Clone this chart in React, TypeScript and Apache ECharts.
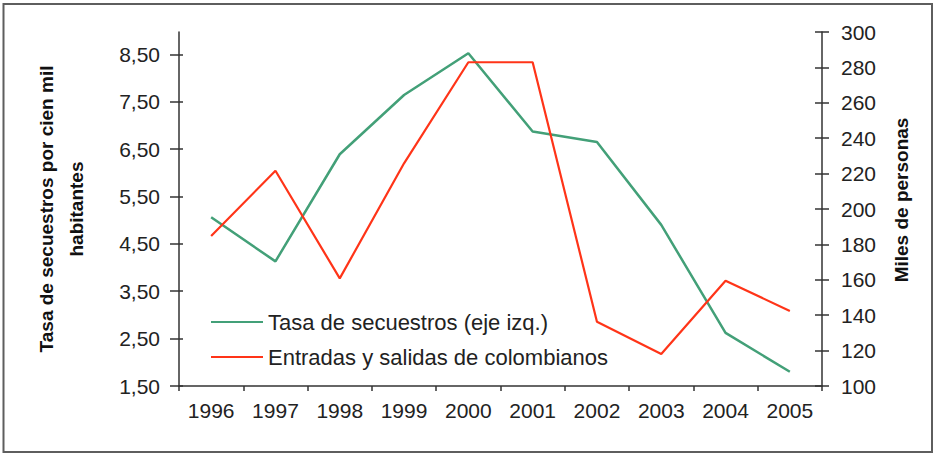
import React, { useEffect, useRef } from "react";
import * as echarts from "echarts";

const years = ["1996", "1997", "1998", "1999", "2000", "2001", "2002", "2003", "2004", "2005"];
const tasaSecuestros = [5.06, 4.13, 6.39, 7.64, 8.52, 6.87, 6.65, 4.9, 2.62, 1.8];
const entradasSalidas = [184.7, 221.6, 160.8, 225.8, 282.9, 282.9, 136.3, 118.1, 159.5, 142.4];
const leftTicks = [1.5, 2.5, 3.5, 4.5, 5.5, 6.5, 7.5, 8.5];
const seriesNames = ["Tasa de secuestros (eje izq.)", "Entradas y salidas de colombianos"];
const leftName = "Tasa de secuestros por cien mil\nhabitantes";
const rightName = "Miles de personas";

const FONT = "'Liberation Sans', Arial, Helvetica, sans-serif";
const GREEN = "#43a078";
const RED = "#ff3418";
const AXIS = "#333333";

export default function App() {
  const ref = useRef<HTMLDivElement>(null);
  useEffect(() => {
    if (!ref.current) return;
    const chart = echarts.init(ref.current, undefined, { renderer: "svg" });
    const leftMin = 1.5;
    const leftMax = 8.97;
    const fmt = (v: number) => v.toFixed(2).replace(".", ",");
    chart.setOption({
      animation: false,
      backgroundColor: "#ffffff",
      textStyle: { fontFamily: FONT },
      grid: { left: 179, right: 112, top: 32, bottom: 67, containLabel: false },
      legend: {
        orient: "vertical",
        left: 206,
        top: 306,
        padding: 5,
        itemWidth: 52,
        itemHeight: 2,
        itemGap: 13,
        icon: "rect",
        data: seriesNames,
        textStyle: { fontFamily: FONT, fontSize: 22, color: "#222", lineHeight: 22 },
      },
      xAxis: {
        type: "category",
        data: years,
        boundaryGap: true,
        axisLine: { lineStyle: { color: AXIS, width: 1.5 } },
        axisTick: { show: true, length: 5, lineStyle: { color: AXIS, width: 1.5 } },
        axisLabel: { fontFamily: FONT, fontSize: 21, color: "#222", margin: 14 },
        splitLine: { show: false },
      },
      yAxis: [
        {
          type: "value",
          position: "left",
          min: leftMin,
          max: leftMax,
          name: leftName,
          nameLocation: "middle",
          nameRotate: 90,
          nameGap: 88,
          nameTextStyle: { fontFamily: FONT, fontSize: 19, fontWeight: "bold", color: "#111", lineHeight: 30 },
          axisLine: { show: true, lineStyle: { color: AXIS, width: 1.5 } },
          axisTick: { show: true, length: 9, customValues: leftTicks, lineStyle: { color: AXIS, width: 1.5 } },
          axisLabel: { customValues: leftTicks, formatter: fmt, fontFamily: FONT, fontSize: 21, color: "#222", margin: 19 },
          splitLine: { show: false },
        },
        {
          type: "value",
          position: "right",
          min: 100,
          max: 300,
          interval: 20,
          name: rightName,
          nameLocation: "middle",
          nameRotate: 90,
          nameGap: 70,
          nameTextStyle: { fontFamily: FONT, fontSize: 19, fontWeight: "bold", color: "#111", padding: [0, 0, 0, 18] },
          axisLine: { show: true, lineStyle: { color: AXIS, width: 1.5 } },
          axisTick: { show: true, length: 7, lineStyle: { color: AXIS, width: 1.5 } },
          axisLabel: { fontFamily: FONT, fontSize: 21, color: "#222", margin: 19 },
          splitLine: { show: false },
        },
        {
          type: "value",
          position: "left",
          min: leftMin,
          max: leftMax,
          axisLine: { show: false },
          axisTick: { show: true, inside: true, length: 4, customValues: leftTicks, lineStyle: { color: AXIS, width: 1.5 } },
          axisLabel: { show: false },
          splitLine: { show: false },
        },
        {
          type: "value",
          position: "right",
          min: 100,
          max: 300,
          interval: 20,
          axisLine: { show: false },
          axisTick: { show: true, inside: true, length: 7, lineStyle: { color: AXIS, width: 1.5 } },
          axisLabel: { show: false },
          splitLine: { show: false },
        },
      ],
      series: [
        {
          name: seriesNames[0],
          type: "line",
          yAxisIndex: 0,
          data: tasaSecuestros,
          showSymbol: false,
          symbol: "none",
          lineStyle: { color: GREEN, width: 2.5 },
          itemStyle: { color: GREEN },
        },
        {
          name: seriesNames[1],
          type: "line",
          yAxisIndex: 1,
          data: entradasSalidas,
          showSymbol: false,
          symbol: "none",
          lineStyle: { color: RED, width: 2.2 },
          itemStyle: { color: RED },
        },
      ],
      graphic: [
        {
          type: "rect",
          shape: { x: 3.5, y: 4, width: 928.5, height: 448 },
          style: { fill: "none", stroke: "#5e5e5e", lineWidth: 2 },
          silent: true,
        },
      ],
    });
    return () => chart.dispose();
  }, []);
  return (
    <div
      ref={ref}
      style={{ position: "fixed", left: 0, top: 0, width: 934, height: 453 }}
    />
  );
}
